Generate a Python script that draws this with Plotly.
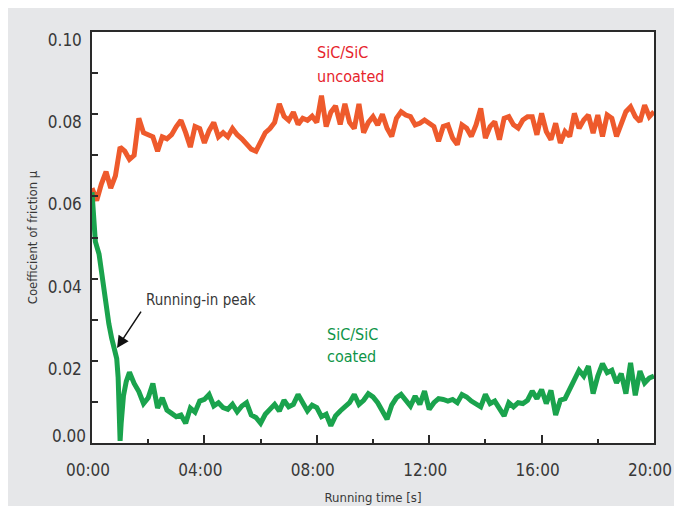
import plotly.graph_objects as go

# ---------------- data ----------------
x_tick_vals = [0, 4, 8, 12, 16, 20]                      # minutes
x_tick_labels = ["00:00", "04:00", "08:00", "12:00", "16:00", "20:00"]
y_tick_vals = [0.02, 0.04, 0.06, 0.08, 0.10]
y_tick_labels = ["0.02", "0.04", "0.06", "0.08", "0.10"]
y_zero_val = [0.00]
y_zero_label = ["0.00"]

step_min = 10 / 60  # one reading every 10 s

# SiC/SiC uncoated, readings every 10 s from 00:00 to 20:00
uncoated_mu = [
    0.0620, 0.0590, 0.0630, 0.0660, 0.0620, 0.0650, 0.0720, 0.0710, 0.0690, 0.0700,
    0.0790, 0.0755, 0.0750, 0.0745, 0.0710, 0.0745, 0.0740, 0.0750, 0.0770, 0.0785,
    0.0755, 0.0720, 0.0770, 0.0765, 0.0730, 0.0760, 0.0780, 0.0745, 0.0755, 0.0745,
    0.0765, 0.0750, 0.0740, 0.0725, 0.0715, 0.0710, 0.0735, 0.0755, 0.0765, 0.0780,
    0.0825, 0.0795, 0.0785, 0.0805, 0.0775, 0.0790, 0.0785, 0.0795, 0.0780, 0.0845,
    0.0770, 0.0805, 0.0820, 0.0775, 0.0825, 0.0780, 0.0765, 0.0825, 0.0755, 0.0780,
    0.0794, 0.0774, 0.0800, 0.0766, 0.0746, 0.0790, 0.0806, 0.0798, 0.0794, 0.0774,
    0.0778, 0.0786, 0.0778, 0.0770, 0.0734, 0.0770, 0.0774, 0.0742, 0.0726, 0.0774,
    0.0766, 0.0746, 0.0774, 0.0814, 0.0742, 0.0770, 0.0782, 0.0738, 0.0790, 0.0794,
    0.0774, 0.0766, 0.0786, 0.0794, 0.0794, 0.0750, 0.0802, 0.0758, 0.0738, 0.0778,
    0.0730, 0.0758, 0.0746, 0.0802, 0.0766, 0.0786, 0.0798, 0.0754, 0.0798, 0.0746,
    0.0798, 0.0790, 0.0746, 0.0774, 0.0806, 0.0818, 0.0794, 0.0782, 0.0822, 0.0794,
    0.0806,
]
uncoated_time = [i * step_min for i in range(len(uncoated_mu))]

# SiC/SiC coated: running-in phase read at irregular times (minutes) ...
coated_time_start = [0.0, 0.12, 0.25, 0.35, 0.5, 0.6, 0.7, 0.8, 0.88, 0.93, 0.98,
                     1.0, 1.04, 1.12, 1.22]
coated_mu_start = [0.0610, 0.0490, 0.0460, 0.0410, 0.0330, 0.0290, 0.0255, 0.0230,
                   0.0205, 0.0160, 0.0060, 0.0005, 0.0050, 0.0115, 0.0150]
# ... then every 10 s from 01:20 to 20:00
coated_mu_rest = [
    0.0172, 0.0145, 0.0125, 0.0096, 0.0110, 0.0145, 0.0085, 0.0110, 0.0080, 0.0072,
    0.0064, 0.0068, 0.0048, 0.0085, 0.0075, 0.0102, 0.0106, 0.0118, 0.0090, 0.0098,
    0.0086, 0.0082, 0.0094, 0.0076, 0.0090, 0.0098, 0.0068, 0.0062, 0.0048, 0.0070,
    0.0082, 0.0094, 0.0078, 0.0104, 0.0088, 0.0094, 0.0118, 0.0095, 0.0078, 0.0092,
    0.0086, 0.0064, 0.0070, 0.0042, 0.0066, 0.0078, 0.0090, 0.0098, 0.0118, 0.0094,
    0.0104, 0.0120, 0.0112, 0.0098, 0.0078, 0.0058, 0.0092, 0.0110, 0.0118, 0.0106,
    0.0090, 0.0114, 0.0094, 0.0126, 0.0082, 0.0098, 0.0108, 0.0106, 0.0102, 0.0106,
    0.0098, 0.0118, 0.0112, 0.0102, 0.0094, 0.0088, 0.0118, 0.0096, 0.0102, 0.0082,
    0.0066, 0.0098, 0.0088, 0.0098, 0.0096, 0.0104, 0.0126, 0.0108, 0.0130, 0.0096,
    0.0128, 0.0068, 0.0104, 0.0108, 0.0132, 0.0153, 0.0177, 0.0163, 0.0187, 0.0120,
    0.0163, 0.0193, 0.0171, 0.0177, 0.0146, 0.0169, 0.0120, 0.0195, 0.0116, 0.0175,
    0.0146, 0.0158, 0.0163,
]
coated_time_rest = [(8 + i) * step_min for i in range(len(coated_mu_rest))]
coated_time = coated_time_start + coated_time_rest
coated_mu = coated_mu_start + coated_mu_rest

# ---------------- style ----------------
FONT = "DejaVu Sans Condensed, Liberation Sans, sans-serif"
RED_LINE = "#ee5a2c"
RED_TEXT = "#e6242c"
GREEN_LINE = "#1aa34d"
GREEN_TEXT = "#0e9447"
AXIS = "#2a2a2a"
TXT = "#383838"
PANEL = "#e6e7e9"

fig = go.Figure()
fig.add_trace(go.Scatter(x=uncoated_time, y=uncoated_mu, mode="lines",
                         line=dict(color=RED_LINE, width=5), showlegend=False))
fig.add_trace(go.Scatter(x=coated_time, y=coated_mu, mode="lines",
                         line=dict(color=GREEN_LINE, width=5), showlegend=False))
# empty trace so that the helper axis carrying the "0.00" label is drawn
fig.add_trace(go.Scatter(x=[], y=[], yaxis="y2", mode="lines",
                         showlegend=False, hoverinfo="skip"))

# the page body adds an 8px white margin, which forms the white frame
fig.update_layout(
    width=669, height=498,
    margin=dict(l=84, r=23, t=24, b=63, autoexpand=False),
    paper_bgcolor=PANEL,
    plot_bgcolor="white",
    font=dict(family=FONT, color=TXT),
    showlegend=False,
)

fig.update_xaxes(
    range=[0, 20], automargin=False,
    tickvals=x_tick_vals, ticktext=x_tick_labels,
    tickfont=dict(size=17, family=FONT, color=TXT),
    ticks="inside", ticklen=8, tickwidth=2, tickcolor=AXIS,
    minor=dict(dtick=2, ticks="inside", ticklen=4, tickwidth=2, tickcolor=AXIS),
    showline=True, linecolor=AXIS, linewidth=1.5, mirror=True,
    showgrid=False, zeroline=False,
    ticklabelstandoff=11, ticklabelshift=-4,
    title=dict(text="Running time [s]", font=dict(size=13, family=FONT, color=TXT),
               standoff=14),
)
fig.update_yaxes(
    range=[0, 0.1], automargin=False,
    tickvals=y_tick_vals, ticktext=y_tick_labels,
    tickfont=dict(size=17, family=FONT, color=TXT),
    ticks="inside", ticklen=6, tickwidth=2, tickcolor=AXIS,
    minor=dict(dtick=0.01, ticks="inside", ticklen=6, tickwidth=2, tickcolor=AXIS),
    showline=True, linecolor=AXIS, linewidth=1.5, mirror=True,
    showgrid=False, zeroline=False,
    ticklabelstandoff=5, ticklabelshift=8,
    title=dict(text="Coefficient of friction \u03bc",
               font=dict(size=13, family=FONT, color=TXT), standoff=7),
)
# separate label for 0.00, which sits just above the baseline in the original
fig.update_layout(yaxis2=dict(
    overlaying="y", side="left", range=[0, 0.1], automargin=False,
    tickvals=y_zero_val, ticktext=y_zero_label,
    tickfont=dict(size=17, family=FONT, color=TXT),
    ticks="", showline=False, showgrid=False, zeroline=False,
    ticklabelstandoff=5, ticklabelshift=-7,
))

# labels
fig.add_annotation(x=7.94, y=0.0951, text="SiC/SiC", showarrow=False, xanchor="left",
                   font=dict(size=16, family=FONT, color=RED_TEXT))
fig.add_annotation(x=7.94, y=0.0891, text="uncoated", showarrow=False, xanchor="left",
                   font=dict(size=16, family=FONT, color=RED_TEXT))
fig.add_annotation(x=8.29, y=0.0263, text="SiC/SiC", showarrow=False, xanchor="left",
                   font=dict(size=16, family=FONT, color=GREEN_TEXT))
fig.add_annotation(x=8.29, y=0.0210, text="coated", showarrow=False, xanchor="left",
                   font=dict(size=16, family=FONT, color=GREEN_TEXT))
fig.add_annotation(x=1.85, y=0.0348, text="Running-in peak", showarrow=False,
                   xanchor="left", font=dict(size=15, family=FONT, color=TXT))
fig.add_annotation(x=0.89, y=0.0231, text="", showarrow=True, ax=25, ay=-38,
                   arrowhead=2, arrowsize=1.6, arrowwidth=1.5, arrowcolor="#111111")

fig.write_html("out.html")
